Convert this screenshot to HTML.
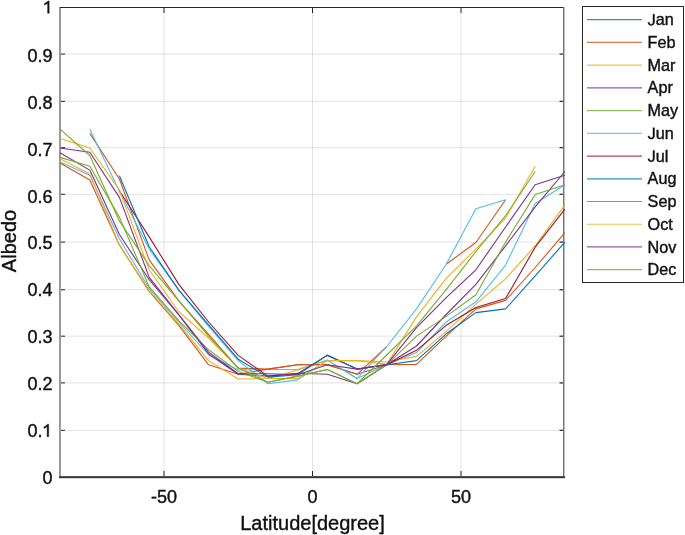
<!DOCTYPE html>
<html><head><meta charset="utf-8"><title>Albedo vs Latitude</title>
<style>html,body{margin:0;padding:0;background:#fff;width:685px;height:535px;overflow:hidden;font-family:"Liberation Sans",sans-serif}svg{display:block}text{stroke:#111;stroke-width:0.4px}.h{fill-opacity:0;stroke-opacity:0}svg{will-change:transform}</style>
</head><body>
<svg width="685" height="535" viewBox="0 0 685 535" font-family="Liberation Sans, sans-serif"><g stroke="#262626" stroke-opacity="0.13" stroke-width="1"><line x1="164.00" y1="8" x2="164.00" y2="476" /><line x1="312.50" y1="8" x2="312.50" y2="476" /><line x1="461.00" y1="8" x2="461.00" y2="476" /><line x1="61" y1="430.33" x2="563" y2="430.33" /><line x1="61" y1="382.90" x2="563" y2="382.90" /><line x1="61" y1="336.20" x2="563" y2="336.20" /><line x1="61" y1="289.72" x2="563" y2="289.72" /><line x1="61" y1="242.07" x2="563" y2="242.07" /><line x1="61" y1="194.30" x2="563" y2="194.30" /><line x1="61" y1="147.68" x2="563" y2="147.68" /><line x1="61" y1="101.33" x2="563" y2="101.33" /><line x1="61" y1="54.07" x2="563" y2="54.07" /></g><rect x="59" y="7" width="2" height="470" fill="#9a9a9a" /><rect x="59" y="476" width="506" height="1" fill="#505050" /><rect x="59" y="477" width="506" height="1" fill="#363636" /><rect x="59" y="478" width="506" height="1" fill="#dadada" /><rect x="60" y="7" width="504" height="1" fill="#262626" /><rect x="563" y="7" width="1" height="469" fill="#767676" /><rect x="564" y="7" width="1" height="469" fill="#bdbdbd" /><line x1="61" y1="430.33" x2="65" y2="430.33" stroke="#262626" stroke-width="1" /><line x1="559.5" y1="430.33" x2="563" y2="430.33" stroke="#262626" stroke-width="1.2" /><line x1="61" y1="382.90" x2="65" y2="382.90" stroke="#262626" stroke-width="1" /><line x1="559.5" y1="382.90" x2="563" y2="382.90" stroke="#262626" stroke-width="1.2" /><line x1="61" y1="336.20" x2="65" y2="336.20" stroke="#262626" stroke-width="1" /><line x1="559.5" y1="336.20" x2="563" y2="336.20" stroke="#262626" stroke-width="1.2" /><line x1="61" y1="289.72" x2="65" y2="289.72" stroke="#262626" stroke-width="1" /><line x1="559.5" y1="289.72" x2="563" y2="289.72" stroke="#262626" stroke-width="1.2" /><line x1="61" y1="242.07" x2="65" y2="242.07" stroke="#262626" stroke-width="1" /><line x1="559.5" y1="242.07" x2="563" y2="242.07" stroke="#262626" stroke-width="1.2" /><line x1="61" y1="194.30" x2="65" y2="194.30" stroke="#262626" stroke-width="1" /><line x1="559.5" y1="194.30" x2="563" y2="194.30" stroke="#262626" stroke-width="1.2" /><line x1="61" y1="147.68" x2="65" y2="147.68" stroke="#262626" stroke-width="1" /><line x1="559.5" y1="147.68" x2="563" y2="147.68" stroke="#262626" stroke-width="1.2" /><line x1="61" y1="101.33" x2="65" y2="101.33" stroke="#262626" stroke-width="1" /><line x1="559.5" y1="101.33" x2="563" y2="101.33" stroke="#262626" stroke-width="1.2" /><line x1="61" y1="54.07" x2="65" y2="54.07" stroke="#262626" stroke-width="1" /><line x1="559.5" y1="54.07" x2="563" y2="54.07" stroke="#262626" stroke-width="1.2" /><line x1="164.00" y1="471" x2="164.00" y2="476" stroke="#262626" stroke-width="1" /><line x1="164.00" y1="8" x2="164.00" y2="13" stroke="#262626" stroke-width="1" /><line x1="312.50" y1="471" x2="312.50" y2="476" stroke="#262626" stroke-width="1" /><line x1="312.50" y1="8" x2="312.50" y2="13" stroke="#262626" stroke-width="1" /><line x1="461.00" y1="471" x2="461.00" y2="476" stroke="#262626" stroke-width="1" /><line x1="461.00" y1="8" x2="461.00" y2="13" stroke="#262626" stroke-width="1" /><polyline fill="none" stroke="#4DBEEE" stroke-width="1.1" stroke-linejoin="round" points="60.0,162.1 89.8,175.3 119.4,238.8 149.2,288.6 178.8,322.0 208.6,355.0 238.2,370.0 267.9,369.5 297.6,369.5 327.4,360.1 357.1,378.5 386.8,364.8 416.5,352.6 446.2,322.0 475.9,301.8 505.6,265.1 535.2,203.5 564.9,184.7" /><polyline fill="none" stroke="#D95319" stroke-width="1.1" stroke-linejoin="round" points="60.0,163.0 89.8,180.0 119.4,244.9 149.2,291.5 178.8,325.3 208.6,364.8 238.2,374.3 267.9,369.1 297.6,364.8 327.4,364.8 357.1,374.3 386.8,364.8 416.5,364.4 446.2,336.1 475.9,308.9 505.6,300.4 535.2,267.5 564.9,232.7" /><polyline fill="none" stroke="#EDB120" stroke-width="1.1" stroke-linejoin="round" points="60.0,158.8 89.8,173.9 119.4,244.9 149.2,290.5 178.8,323.9 208.6,360.6 238.2,379.0 267.9,378.5 297.6,370.0 327.4,360.6 357.1,360.6 386.8,362.0 416.5,356.4 446.2,331.4 475.9,304.2 505.6,278.8 535.2,245.8 564.9,204.9" /><polyline fill="none" stroke="#7E2F8E" stroke-width="1.1" stroke-linejoin="round" points="60.0,152.7 89.8,170.1 119.4,234.5 149.2,279.7 178.8,315.0 208.6,354.0 238.2,374.3 267.9,376.1 297.6,373.3 327.4,374.3 357.1,383.7 386.8,364.8 416.5,346.0 446.2,314.5 475.9,284.4 505.6,245.8 535.2,206.8 564.9,171.5" /><polyline fill="none" stroke="#77AC30" stroke-width="1.1" stroke-linejoin="round" points="60.0,157.4 89.8,166.3 119.4,217.1 149.2,286.8 178.8,320.6 208.6,349.8 238.2,371.4 267.9,382.2 297.6,376.1 327.4,369.5 357.1,383.7 386.8,364.8 416.5,336.1 446.2,316.4 475.9,294.8 505.6,242.1 535.2,194.6 564.9,184.7" /><polyline fill="none" stroke="#D95319" stroke-width="1.1" stroke-linejoin="round" points="89.8,133.4 119.4,179.0 149.2,259.9 178.8,300.9 208.6,334.3 238.2,368.1 267.9,369.1 297.6,364.8 327.4,364.8 357.1,374.3 386.8,346.5" /><polyline fill="none" stroke="#D95319" stroke-width="1.1" stroke-linejoin="round" points="446.2,264.2 475.9,242.5 505.6,199.7" /><polyline fill="none" stroke="#4DBEEE" stroke-width="1.1" stroke-linejoin="round" points="89.8,129.2 119.4,191.3 149.2,249.1 178.8,290.1 208.6,326.3 238.2,360.6 267.9,383.7 297.6,379.9 327.4,360.1 357.1,378.5 386.8,346.5 416.5,308.9 446.2,264.2 475.9,208.7 505.6,199.7" /><polyline fill="none" stroke="#A2142F" stroke-width="1.1" stroke-linejoin="round" points="119.4,190.8 149.2,236.9 178.8,284.4 208.6,322.0 238.2,355.4 267.9,376.1 297.6,373.8 327.4,355.4 357.1,369.1 386.8,364.8 416.5,350.3 446.2,325.3 475.9,307.5 505.6,298.5 535.2,247.2 564.9,209.1" /><polyline fill="none" stroke="#0072BD" stroke-width="1.1" stroke-linejoin="round" points="119.4,175.7 149.2,246.8 178.8,290.1 208.6,324.9 238.2,359.2 267.9,377.1 297.6,374.7 327.4,355.0 357.1,369.1 386.8,364.8 416.5,360.6 446.2,333.8 475.9,312.6 505.6,308.9 535.2,275.9 564.9,242.1" /><polyline fill="none" stroke="#EDB120" stroke-width="1.1" stroke-linejoin="round" points="60.0,138.6 89.8,148.0 119.4,189.9 149.2,269.8 178.8,311.7 208.6,338.0 238.2,368.1 267.9,378.5 297.6,378.5 327.4,360.6 357.1,360.6 386.8,364.4 416.5,316.9 446.2,278.3 475.9,249.1 505.6,218.1 535.2,166.3" /><polyline fill="none" stroke="#7E2F8E" stroke-width="1.1" stroke-linejoin="round" points="60.0,148.0 89.8,152.2 119.4,197.4 149.2,277.4 178.8,314.5 208.6,352.1 238.2,373.8 267.9,373.8 297.6,374.7 327.4,364.8 357.1,369.1 386.8,364.4 416.5,327.7 446.2,297.6 475.9,269.8 505.6,227.0 535.2,184.7 564.9,175.3" /><polyline fill="none" stroke="#77AC30" stroke-width="1.1" stroke-linejoin="round" points="60.0,129.2 89.8,155.5 119.4,220.9 149.2,265.6 178.8,300.9 208.6,336.1 238.2,368.1 267.9,382.2 297.6,376.1 327.4,369.5 357.1,383.7 386.8,355.0 416.5,325.8 446.2,289.6 475.9,251.5 505.6,215.7 535.2,171.5" /><g font-size="18" fill="#111" stroke="#111" stroke-width="0.4"><text x="52.5" y="483.9" text-anchor="end">0</text><text x="52.5" y="436.6" text-anchor="end">0.<tspan class="h">1</tspan></text><path stroke-width="45.5" d="M763,0 L583,0 L583,1147 Q518,1085 413,1023 Q308,961 223,930 L223,1104 Q368,1172 477,1269 Q586,1366 631,1409 L763,1409 Z" transform="translate(41.99,436.63) scale(0.008789,-0.008789)" /><text x="52.5" y="390.1" text-anchor="end">0.2</text><text x="52.5" y="343.0" text-anchor="end">0.3</text><text x="52.5" y="295.9" text-anchor="end">0.4</text><text x="52.5" y="248.5" text-anchor="end">0.5</text><text x="52.5" y="202.5" text-anchor="end">0.6</text><text x="52.5" y="155.9" text-anchor="end">0.7</text><text x="52.5" y="108.6" text-anchor="end">0.8</text><text x="52.5" y="61.6" text-anchor="end">0.9</text><text x="52.5" y="13.3" text-anchor="end"><tspan class="h">1</tspan></text><path stroke-width="45.5" d="M763,0 L583,0 L583,1147 Q518,1085 413,1023 Q308,961 223,930 L223,1104 Q368,1172 477,1269 Q586,1366 631,1409 L763,1409 Z" transform="translate(42.49,13.27) scale(0.008789,-0.008789)" /><text x="164.00" y="502.5" text-anchor="middle">-50</text><text x="312.50" y="502.5" text-anchor="middle">0</text><text x="461.00" y="502.5" text-anchor="middle">50</text></g><text x="312.5" y="530" text-anchor="middle" font-size="20" fill="#111">Latitude[degree]</text><text transform="translate(16.3,241) rotate(-90)" text-anchor="middle" font-size="20" fill="#111">Albedo</text><rect x="582.5" y="6.5" width="101" height="276" fill="#fff" stroke="#262626" stroke-width="1" /><line x1="587" y1="19.70" x2="642" y2="19.70" stroke="#0072BD" stroke-width="1.2" stroke-opacity="0.8" /><g fill="#111" stroke="#111" stroke-width="0.4"><path d="M457,-20 Q99,-20 32,350 L219,381 Q237,265 300,200 Q363,135 458,135 Q562,135 622,206.5 Q682,278 682,416 L682,1409 L872,1409 L872,420 Q872,215 761,97.5 Q650,-20 457,-20 Z" transform="translate(647.60,25.30) scale(0.007910,-0.007910)" stroke-width="50.6" /></g><text x="647.6" y="25.30" font-size="16.2" fill="#111"><tspan class="h">J</tspan>an</text><line x1="587" y1="42.43" x2="642" y2="42.43" stroke="#D95319" stroke-width="1.2" stroke-opacity="0.8" /><text x="647.6" y="48.03" font-size="16.2" fill="#111">Feb</text><line x1="587" y1="65.15" x2="642" y2="65.15" stroke="#EDB120" stroke-width="1.2" stroke-opacity="0.8" /><text x="647.6" y="70.75" font-size="16.2" fill="#111">Mar</text><line x1="587" y1="87.88" x2="642" y2="87.88" stroke="#7E2F8E" stroke-width="1.2" stroke-opacity="0.8" /><text x="647.6" y="93.48" font-size="16.2" fill="#111">Apr</text><line x1="587" y1="110.61" x2="642" y2="110.61" stroke="#77AC30" stroke-width="1.2" stroke-opacity="0.8" /><text x="647.6" y="116.21" font-size="16.2" fill="#111">May</text><line x1="587" y1="133.34" x2="642" y2="133.34" stroke="#4DBEEE" stroke-width="1.2" stroke-opacity="0.8" /><g fill="#111" stroke="#111" stroke-width="0.4"><path d="M457,-20 Q99,-20 32,350 L219,381 Q237,265 300,200 Q363,135 458,135 Q562,135 622,206.5 Q682,278 682,416 L682,1409 L872,1409 L872,420 Q872,215 761,97.5 Q650,-20 457,-20 Z" transform="translate(647.60,138.94) scale(0.007910,-0.007910)" stroke-width="50.6" /></g><text x="647.6" y="138.94" font-size="16.2" fill="#111"><tspan class="h">J</tspan>un</text><line x1="587" y1="156.06" x2="642" y2="156.06" stroke="#A2142F" stroke-width="1.2" stroke-opacity="0.8" /><g fill="#111" stroke="#111" stroke-width="0.4"><path d="M457,-20 Q99,-20 32,350 L219,381 Q237,265 300,200 Q363,135 458,135 Q562,135 622,206.5 Q682,278 682,416 L682,1409 L872,1409 L872,420 Q872,215 761,97.5 Q650,-20 457,-20 Z" transform="translate(647.60,161.66) scale(0.007910,-0.007910)" stroke-width="50.6" /></g><text x="647.6" y="161.66" font-size="16.2" fill="#111"><tspan class="h">J</tspan>ul</text><line x1="587" y1="178.79" x2="642" y2="178.79" stroke="#0072BD" stroke-width="1.2" stroke-opacity="0.8" /><text x="647.6" y="184.39" font-size="16.2" fill="#111">Aug</text><line x1="587" y1="201.52" x2="642" y2="201.52" stroke="#D95319" stroke-width="1.2" stroke-opacity="0.8" /><text x="647.6" y="207.12" font-size="16.2" fill="#111">Sep</text><line x1="587" y1="224.24" x2="642" y2="224.24" stroke="#EDB120" stroke-width="1.2" stroke-opacity="0.8" /><text x="647.6" y="229.84" font-size="16.2" fill="#111">Oct</text><line x1="587" y1="246.97" x2="642" y2="246.97" stroke="#7E2F8E" stroke-width="1.2" stroke-opacity="0.8" /><text x="647.6" y="252.57" font-size="16.2" fill="#111">Nov</text><line x1="587" y1="269.70" x2="642" y2="269.70" stroke="#77AC30" stroke-width="1.2" stroke-opacity="0.8" /><text x="647.6" y="275.30" font-size="16.2" fill="#111">Dec</text></svg>
</body></html>
